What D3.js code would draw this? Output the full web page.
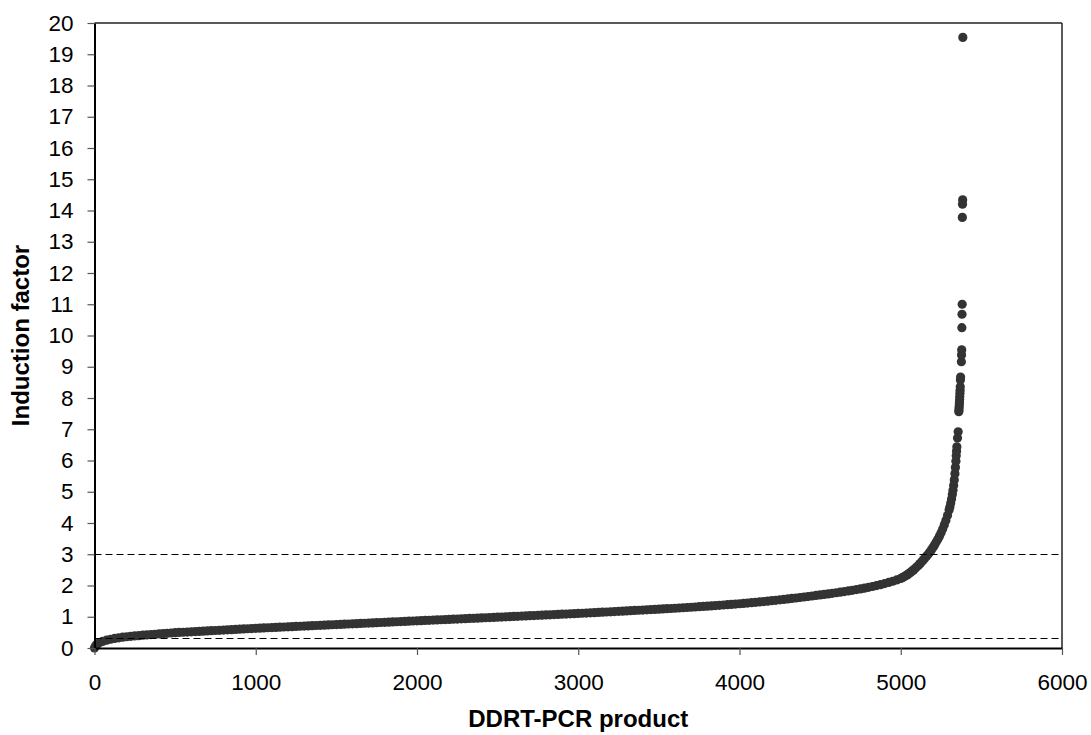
<!DOCTYPE html>
<html>
<head>
<meta charset="utf-8">
<script src="https://cdn.jsdelivr.net/npm/d3@7"></script>
<style>
  html, body { margin: 0; padding: 0; background: #ffffff; }
  svg { display: block; font-family: "Liberation Sans", Arial, sans-serif; }
</style>
</head>
<body>
<svg id="chart" width="1091" height="735"></svg>
<script>
// ---- data ----
const xTicks = [0, 1000, 2000, 3000, 4000, 5000, 6000];
const yTicks = [0, 1, 2, 3, 4, 5, 6, 7, 8, 9, 10, 11, 12, 13, 14, 15, 16, 17, 18, 19, 20];
const thresholds = [3, 0.333];
const xTitle = "DDRT-PCR product";
const yTitle = "Induction factor";

// rank of each DDRT-PCR product (sorted) and its induction factor
const ranks = [
  0, 5, 10, 15, 25, 50, 75, 100, 125, 150, 175, 200, 225, 250, 275, 300, 325, 350, 375, 400, 425, 450, 475, 500,
  525, 550, 575, 600, 625, 650, 675, 700, 725, 750, 775, 800, 825, 850, 875, 900, 925, 950, 975, 1000,
  1025, 1050, 1075, 1100, 1125, 1150, 1175, 1200, 1225, 1250, 1275, 1300, 1325, 1350, 1375, 1400, 1425, 1450, 1475, 1500,
  1525, 1550, 1575, 1600, 1625, 1650, 1675, 1700, 1725, 1750, 1775, 1800, 1825, 1850, 1875, 1900, 1925, 1950, 1975, 2000,
  2025, 2050, 2075, 2100, 2125, 2150, 2175, 2200, 2225, 2250, 2275, 2300, 2325, 2350, 2375, 2400, 2425, 2450, 2475, 2500,
  2525, 2550, 2575, 2600, 2625, 2650, 2675, 2700, 2725, 2750, 2775, 2800, 2825, 2850, 2875, 2900, 2925, 2950, 2975, 3000,
  3025, 3050, 3075, 3100, 3125, 3150, 3175, 3200, 3225, 3250, 3275, 3300, 3325, 3350, 3375, 3400, 3425, 3450, 3475, 3500,
  3525, 3550, 3575, 3600, 3625, 3650, 3675, 3700, 3725, 3750, 3775, 3800, 3825, 3850, 3875, 3900, 3925, 3950, 3975, 4000,
  4025, 4050, 4075, 4100, 4125, 4150, 4175, 4200, 4225, 4250, 4275, 4300, 4325, 4350, 4375, 4400, 4425, 4450, 4475, 4500,
  4525, 4550, 4575, 4600, 4625, 4650, 4675, 4700, 4725, 4750, 4775, 4800, 4825, 4850, 4875, 4900, 4925, 4950, 4975, 5000,
  5010, 5020, 5030, 5040, 5050, 5060, 5070, 5080, 5090, 5100, 5110, 5120, 5130, 5140, 5150, 5160, 5170, 5180, 5190, 5200,
  5210, 5220, 5230, 5240, 5250, 5260, 5270, 5280, 5290, 5300, 5305, 5310, 5315, 5320, 5324, 5328, 5332, 5336, 5339, 5342,
  5344, 5346, 5348, 5352, 5356,
  5360, 5361, 5362, 5363, 5364, 5365, 5366, 5367, 5368, 5369, 5370, 5371,
  5376, 5377, 5378, 5379, 5380, 5381, 5382, 5383, 5384, 5385
];
const inductionFactor = [
  0.00, 0.05, 0.09, 0.12, 0.15, 0.21, 0.25, 0.28, 0.305, 0.325, 0.345, 0.36, 0.375, 0.385, 0.395, 0.41, 0.42, 0.43, 0.44, 0.45, 0.46, 0.47, 0.48, 0.49,
  0.497, 0.504, 0.511, 0.518, 0.525, 0.532, 0.539, 0.546, 0.553, 0.56, 0.567, 0.574, 0.581, 0.588, 0.595, 0.602, 0.609, 0.616, 0.623, 0.63,
  0.636, 0.642, 0.648, 0.654, 0.66, 0.666, 0.672, 0.678, 0.684, 0.69, 0.696, 0.702, 0.708, 0.714, 0.72, 0.726, 0.732, 0.738, 0.744, 0.75,
  0.756, 0.762, 0.768, 0.774, 0.78, 0.786, 0.792, 0.798, 0.804, 0.81, 0.816, 0.822, 0.828, 0.834, 0.84, 0.846, 0.852, 0.858, 0.864, 0.87,
  0.876, 0.881, 0.887, 0.893, 0.899, 0.904, 0.91, 0.916, 0.922, 0.927, 0.933, 0.939, 0.945, 0.951, 0.956, 0.962, 0.968, 0.974, 0.979, 0.985,
  0.991, 0.997, 1.003, 1.009, 1.015, 1.021, 1.027, 1.033, 1.039, 1.045, 1.051, 1.057, 1.063, 1.069, 1.075, 1.081, 1.087, 1.093, 1.099, 1.105,
  1.112, 1.118, 1.125, 1.132, 1.139, 1.145, 1.152, 1.159, 1.166, 1.173, 1.18, 1.187, 1.194, 1.201, 1.208, 1.215, 1.222, 1.229, 1.236, 1.243,
  1.25, 1.257, 1.264, 1.272, 1.28, 1.288, 1.296, 1.304, 1.312, 1.321, 1.33, 1.339, 1.348, 1.357, 1.366, 1.376, 1.386, 1.396, 1.406, 1.416,
  1.427, 1.438, 1.45, 1.462, 1.474, 1.487, 1.50, 1.513, 1.527, 1.541, 1.555, 1.57, 1.585, 1.60, 1.616, 1.632, 1.648, 1.664, 1.681, 1.698,
  1.715, 1.732, 1.75, 1.768, 1.787, 1.806, 1.826, 1.847, 1.869, 1.892, 1.916, 1.941, 1.968, 1.997, 2.028, 2.061, 2.097, 2.136, 2.178, 2.225,
  2.25, 2.28, 2.31, 2.34, 2.38, 2.42, 2.46, 2.50, 2.55, 2.60, 2.65, 2.70, 2.76, 2.82, 2.88, 2.94, 3.00, 3.07, 3.14, 3.22,
  3.30, 3.39, 3.48, 3.58, 3.69, 3.81, 3.94, 4.08, 4.24, 4.42, 4.52, 4.64, 4.77, 4.91, 5.05, 5.2, 5.38, 5.58, 5.78, 5.98,
  6.15, 6.30, 6.44, 6.72, 6.92,
  7.56, 7.62, 7.70, 7.78, 7.86, 7.95, 8.05, 8.15, 8.25, 8.36, 8.58, 8.67,
  9.16, 9.38, 9.54, 10.25, 10.68, 11.0, 13.78, 14.2, 14.34, 19.54
];

// ---- layout ----
const svg = d3.select("#chart");
const plot = { left: 94.5, right: 1062, top: 23, bottom: 648 };

const x = d3.scaleLinear().domain([0, 6000]).range([plot.left, plot.right]);
const y = d3.scaleLinear().domain([0, 20]).range([plot.bottom, plot.top]);

const points = ranks.map((r, i) => ({ r, v: inductionFactor[i] }));

// plot frame (top and right)
svg.append("line")
  .attr("x1", plot.left).attr("x2", plot.right)
  .attr("y1", plot.top).attr("y2", plot.top)
  .attr("stroke", "#222").attr("stroke-width", 1.5);
svg.append("line")
  .attr("x1", plot.right).attr("x2", plot.right)
  .attr("y1", plot.top).attr("y2", plot.bottom)
  .attr("stroke", "#222").attr("stroke-width", 1.5);

// points
svg.append("g")
  .selectAll("circle")
  .data(points)
  .join("circle")
  .attr("cx", d => x(d.r))
  .attr("cy", d => y(d.v))
  .attr("r", 4.6)
  .attr("fill", "#333333");

// threshold lines
svg.append("g")
  .selectAll("line")
  .data(thresholds)
  .join("line")
  .attr("x1", plot.left).attr("x2", plot.right)
  .attr("y1", d => Math.round(y(d)) + 0.5).attr("y2", d => Math.round(y(d)) + 0.5)
  .attr("stroke", "#000")
  .attr("stroke-width", 1.2)
  .attr("stroke-dasharray", "7,4");

// axes
const yAxis = d3.axisLeft(y).tickValues(yTicks).tickSize(7).tickPadding(14).tickSizeOuter(0)
  .tickFormat(d3.format("d"));
const xAxis = d3.axisBottom(x).tickValues(xTicks).tickSize(7).tickPadding(19).tickSizeOuter(0)
  .tickFormat(d3.format("d"));

const gy = svg.append("g").attr("transform", `translate(${plot.left},0)`).call(yAxis);
const gx = svg.append("g").attr("transform", `translate(0,${plot.bottom})`).call(xAxis);

[gx, gy].forEach(g => {
  g.select(".domain").attr("stroke", "#000").attr("stroke-width", 2);
  g.selectAll(".tick line").attr("stroke", "#555").attr("stroke-width", 1.2);
  g.selectAll(".tick text")
    .attr("fill", "#000")
    .style("font-family", "'Liberation Sans', Arial, sans-serif")
    .style("font-size", "22.5px");
});

// axis titles
svg.append("text")
  .attr("x", (plot.left + plot.right) / 2)
  .attr("y", 727)
  .attr("text-anchor", "middle")
  .style("font-size", "24px")
  .style("font-weight", "bold")
  .text(xTitle);

svg.append("text")
  .attr("transform", `translate(28.5,${(plot.top + plot.bottom) / 2}) rotate(-90)`)
  .attr("text-anchor", "middle")
  .style("font-size", "24px")
  .style("font-weight", "bold")
  .text(yTitle);
</script>
</body>
</html>
